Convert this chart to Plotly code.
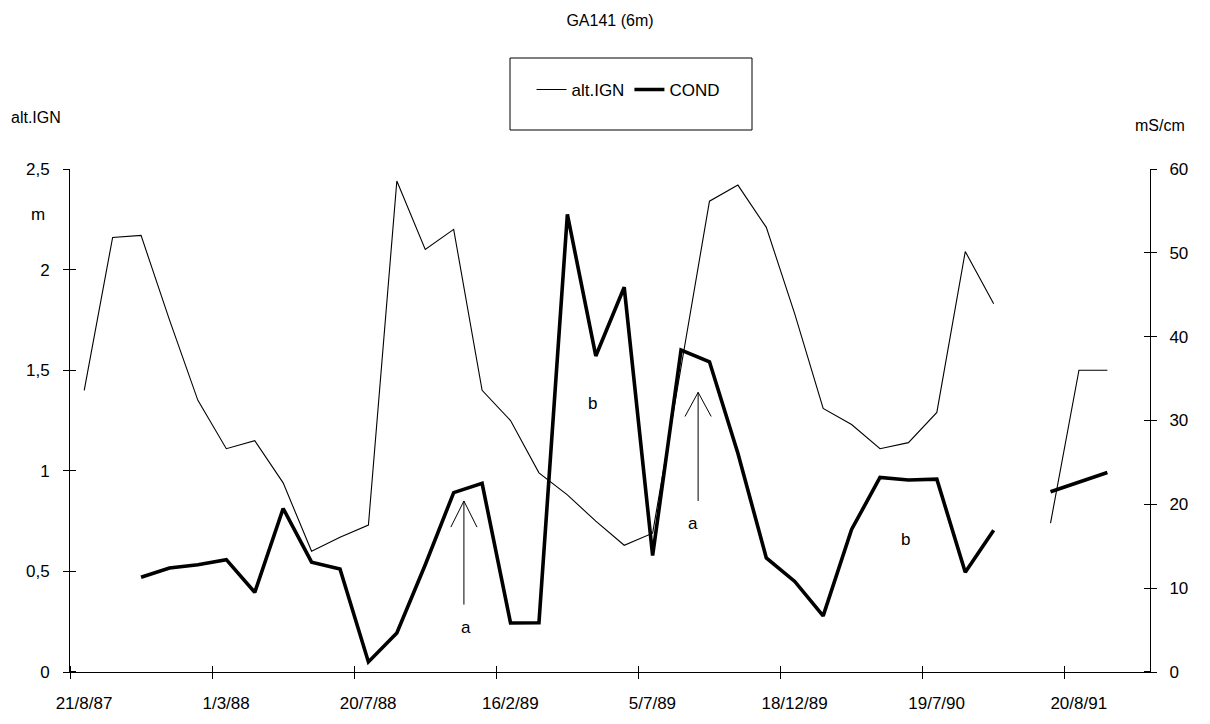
import plotly.graph_objects as go

# ---- data (38 equally spaced sampling dates; only every 5th is labelled) ----
n_cat = 38
cat_index = list(range(n_cat))
tick_cat = [0, 5, 10, 15, 20, 25, 30, 35]
tick_labels = ["21/8/87", "1/3/88", "20/7/88", "16/2/89", "5/7/89",
               "18/12/89", "19/7/90", "20/8/91"]

alt_ign = [1.40, 2.16, 2.17, 1.75, 1.35, 1.11, 1.15, 0.94, 0.60, 0.67,
           0.73, 2.44, 2.10, 2.20, 1.40, 1.25, 0.99, 0.88, 0.75, 0.63,
           0.69, 1.52, 2.34, 2.42, 2.21, 1.78, 1.31, 1.23, 1.11, 1.14,
           1.29, 2.09, 1.83, None, 0.74, 1.50, 1.50, None]

cond = [None, None, 11.3, 12.4, 12.8, 13.4, 9.5, 19.5, 13.1, 12.3,
        1.2, 4.65, 12.8, 21.4, 22.5, 5.85, 5.87, 54.6, 37.7, 45.9,
        13.9, 38.4, 37.0, 26.1, 13.6, 10.8, 6.7, 17.0, 23.2, 22.9,
        23.0, 11.9, 16.9, None, 21.5, 22.6, 23.8, None]

left_ticks = [0, 0.5, 1, 1.5, 2, 2.5]
right_ticks = [0, 10, 20, 30, 40, 50, 60]

FONT = "Liberation Sans, Arial, sans-serif"

# page has an 8px body margin: build a 1202x716 figure so it fills the 1210x724 window
PAGE = 8
W, H = 1210 - PAGE, 724 - PAGE
PL, PR, PT, PB = 70, 1150, 169, 672          # plot area in page pixels
PW, PH = PR - PL, PB - PT


def px(x):
    return (x - PL) / PW


def py(y):
    return (PB - y) / PH


fig = go.Figure()
fig.add_trace(go.Scatter(x=cat_index, y=alt_ign, mode="lines", name="alt.IGN",
                         line=dict(color="black", width=1.1), connectgaps=False))
fig.add_trace(go.Scatter(x=cat_index, y=cond, mode="lines", name="COND",
                         line=dict(color="black", width=3.6), connectgaps=False,
                         yaxis="y2"))

boundaries = [c - 0.5 for c in tick_cat]
eps = 0.003

fig.update_layout(
    width=W, height=H,
    margin=dict(l=PL - PAGE, r=W - (PR - PAGE), t=PT - PAGE, b=H - (PB - PAGE),
                autoexpand=False),
    paper_bgcolor="white", plot_bgcolor="white",
    separators=", ",
    font=dict(family=FONT, size=17, color="black"),
    title=dict(text="GA141 (6m)", x=(610 - PAGE) / W, xref="container", xanchor="center",
               y=1 - (20 - PAGE) / H, yref="container", yanchor="middle",
               font=dict(size=16)),
    xaxis=dict(range=[-0.5, n_cat - 0.5], showgrid=False, zeroline=False,
               automargin=False,
               showline=True, linecolor="black", linewidth=1,
               tickmode="array", tickvals=boundaries, ticktext=tick_labels,
               ticks="outside", ticklen=6, tickcolor="black",
               ticklabelshift=14, ticklabelstandoff=10,
               minor=dict(tickmode="array", tickvals=[b + eps for b in boundaries],
                          ticks="inside", ticklen=6, tickcolor="black"),
               tickfont=dict(size=17)),
    yaxis=dict(range=[0, 2.5], showgrid=False, zeroline=False,
               automargin=False,
               showline=True, linecolor="black", linewidth=1,
               tickmode="array", tickvals=left_ticks,
               ticks="outside", ticklen=6, tickcolor="black",
               ticklabelstandoff=10,
               minor=dict(tickmode="array", tickvals=[v + 0.0005 for v in left_ticks],
                          ticks="inside", ticklen=6, tickcolor="black"),
               tickfont=dict(size=17)),
    yaxis2=dict(range=[0, 60], overlaying="y", side="right", anchor="x",
                automargin=False,
                showgrid=False, zeroline=False,
                showline=True, linecolor="black", linewidth=1,
                tickmode="array", tickvals=right_ticks,
                ticks="outside", ticklen=6, tickcolor="black",
                ticklabelstandoff=9,
                minor=dict(tickmode="array", tickvals=[v + 0.01 for v in right_ticks],
                           ticks="inside", ticklen=6, tickcolor="black"),
                tickfont=dict(size=17)),
    legend=dict(orientation="h", x=px(628), y=py(90),
                xanchor="center", yanchor="middle", bgcolor="rgba(0,0,0,0)",
                borderwidth=0, font=dict(size=17)),
    showlegend=True,
)

# legend frame
fig.add_shape(type="rect", xref="paper", yref="paper",
              x0=px(510), x1=px(752), y0=py(130), y1=py(58),
              line=dict(color="black", width=1), fillcolor="rgba(0,0,0,0)")

# axis unit labels
for txt, tx, ty, fs in [("alt.IGN", 36, 117, 16), ("m", 38, 214, 17), ("mS/cm", 1160, 125, 16)]:
    fig.add_annotation(text=txt, xref="paper", yref="paper", x=px(tx), y=py(ty),
                       xanchor="center", yanchor="middle", showarrow=False,
                       font=dict(size=fs))

# open arrows "a" and labels "b"
arrows = [  # (x, y_bottom, y_top, y_wing)
    (13.36, 0.335, 0.85, 0.72),
    (21.6, 0.85, 1.39, 1.27),
]
for ax, yb, yt, yw in arrows:
    fig.add_shape(type="line", xref="x", yref="y", x0=ax, x1=ax, y0=yb, y1=yt,
                  line=dict(color="black", width=1))
    fig.add_shape(type="path", xref="x", yref="y",
                  path=f"M {ax - 0.46},{yw} L {ax},{yt} L {ax + 0.46},{yw}",
                  line=dict(color="black", width=1))

letters = [("a", 13.43, 0.22), ("a", 21.42, 0.74), ("b", 17.9, 1.335), ("b", 28.9, 0.66)]
for t, lx, ly in letters:
    fig.add_annotation(text=t, x=lx, y=ly, xref="x", yref="y", showarrow=False,
                       xanchor="center", yanchor="middle", font=dict(size=17))

fig.write_html("out.html")
